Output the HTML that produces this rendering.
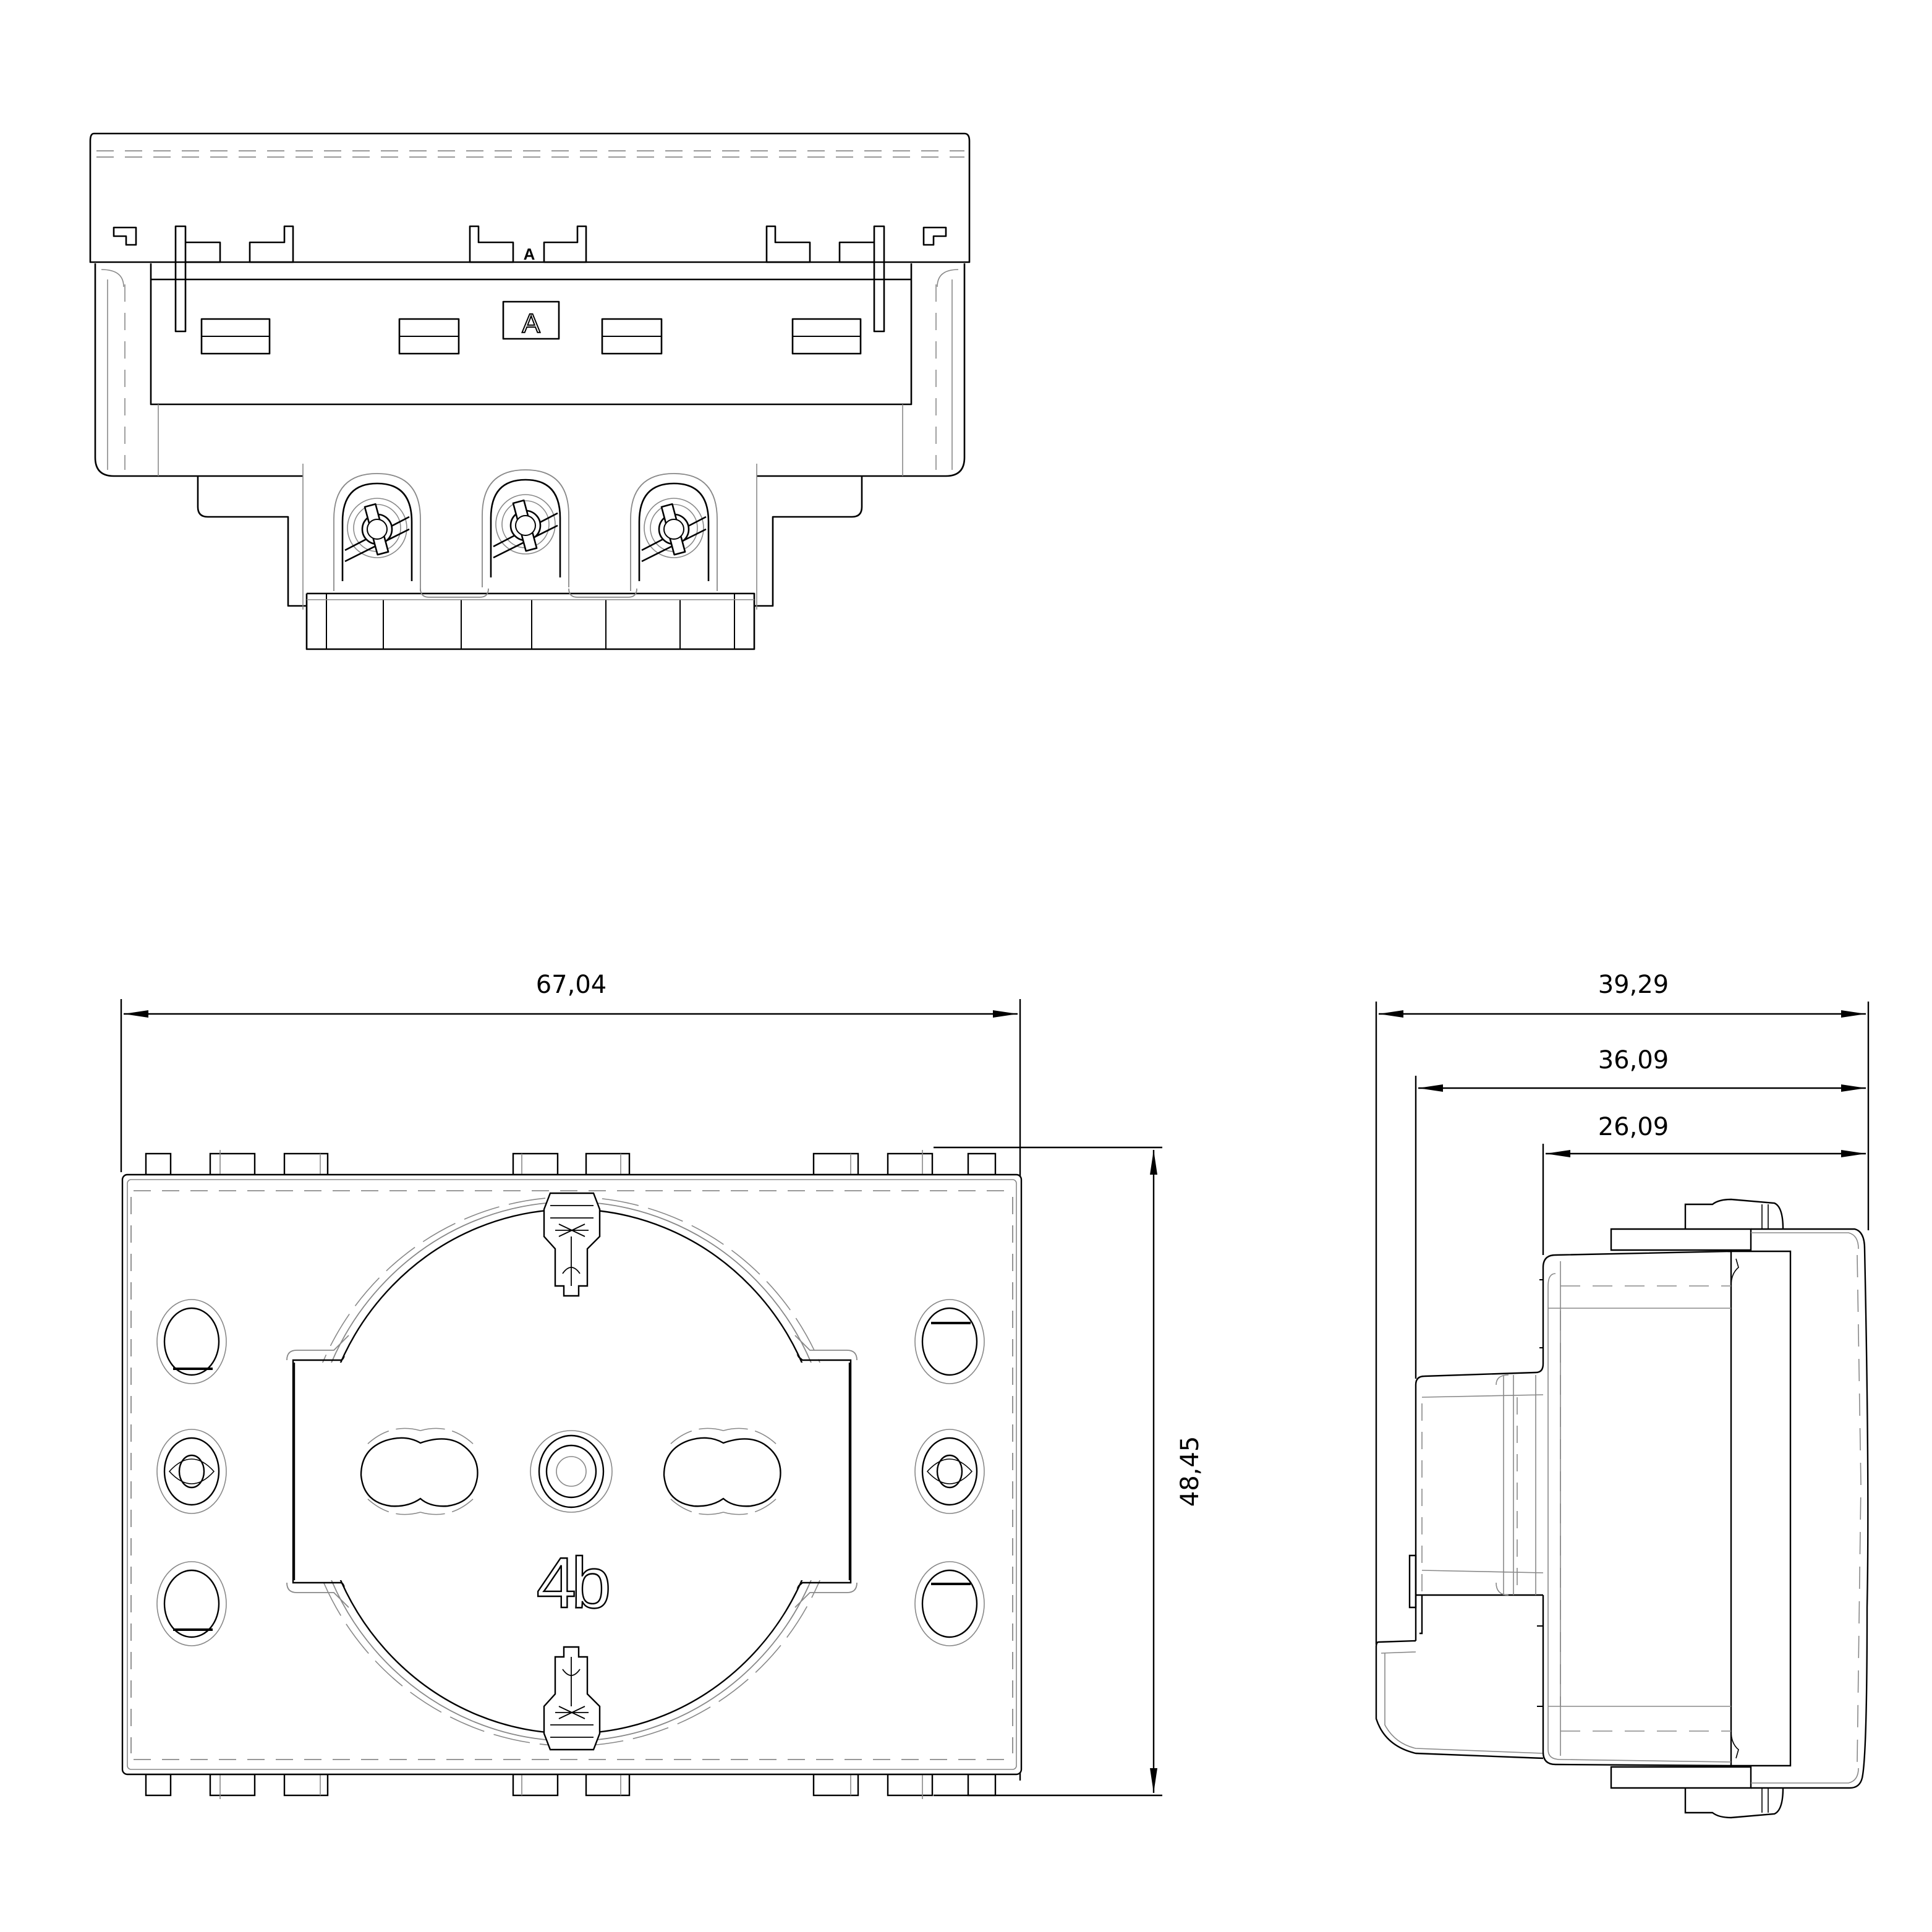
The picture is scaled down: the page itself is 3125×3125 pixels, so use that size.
<!DOCTYPE html>
<html><head><meta charset="utf-8"><style>html,body{margin:0;padding:0;background:#fff}svg{display:block}</style></head><body>
<svg width="3125" height="3125" viewBox="0 0 1562.5 1562.5" xmlns="http://www.w3.org/2000/svg" font-family="DejaVu Sans, Liberation Sans, sans-serif">
<defs>
<marker id="a" viewBox="0 0 20 6" refX="20" refY="3" markerWidth="20" markerHeight="6" markerUnits="userSpaceOnUse" orient="auto-start-reverse"><path d="M0,0L20,3L0,6z" fill="#000"/></marker>
</defs>
<g fill="none" stroke="#000" stroke-width="1.3" stroke-linejoin="round">
<!-- ================= TOP VIEW ================= -->
<path d="M76,108 L780,108 Q784,108 784,114 L784,212 L73,212 L73,114 Q73,108 76,108Z" fill="#fff"/>
<path d="M78,122 L780,122 M78,127 L780,127" stroke="#777" stroke-width="0.8" stroke-dasharray="14,9"/>
<path d="M77,213 L77,370 Q77,385 92,385 L245,385 M780,213 L780,370 Q780,385 765,385 L612,385"/>
<path d="M122,226 L737,226 M122,213 L122,327 L737,327 L737,213"/>
<g stroke="#888" stroke-width="0.8">
<path d="M87,226 L87,380 M128,327 L128,385 M770,226 L770,380 M730,327 L730,385"/>
<path d="M101,230 L101,380 M757,230 L757,380" stroke-dasharray="14,9"/>
<path d="M82,218 Q100,218 100,232 M775,218 Q758,218 758,232"/>
</g>
<path d="M160,385 L160,410 Q160,418 168,418 L233,418 L233,490 L248,490 M697,385 L697,410 Q697,418 689,418 L625,418 L625,490 L610,490"/>
<path d="M245,375 L245,493 M612,375 L612,493" stroke="#888" stroke-width="0.8"/>
<path d="M248,480 L248,525 L610,525 L610,480 L248,480"/>
<path d="M264,480 L264,525 M594,480 L594,525 M310,485 L310,525 M373,485 L373,525 M430,485 L430,525 M490,485 L490,525 M550,485 L550,525" stroke-width="1"/>
<path d="M248,485 L610,485" stroke="#888" stroke-width="0.8"/>
<g id="term">
<path d="M270,478 L270,420 Q270,383 305,383 Q340,383 340,420 L340,478" stroke="#888" stroke-width="0.9"/>
<path d="M277,470 L277,422 Q277,391 305,391 Q333,391 333,422 L333,470" />
<circle cx="305" cy="427" r="24" stroke="#888" stroke-width="0.8"/>
<circle cx="305" cy="427" r="19" stroke="#888" stroke-width="0.8"/>
<path d="M279,445 L331,418 M279,454 L331,428" />
<circle cx="305" cy="428" r="12" fill="#fff"/>
<rect x="300" y="408" width="9" height="40" transform="rotate(-15 305 428)" fill="#fff"/>
<circle cx="305" cy="428" r="8" fill="#fff" stroke-width="1"/>
</g>
<use href="#term" x="120" y="-3"/>
<use href="#term" x="240"/>
<path d="M340,476 Q340,483 347,483 L388,483 Q395,483 395,476 M460,476 Q460,483 467,483 L508,483 Q515,483 515,476" stroke="#888" stroke-width="0.9"/>
<path d="M92,184 L110,184 L110,198 L102,198 L102,191 L92,191Z M765,184 L747,184 L747,198 L755,198 L755,191 L765,191Z"/>
<path d="M142,183 L150,183 L150,268 L142,268Z M150,196 L178,196 L178,212 L150,212 M202,212 L237,212 L237,183 L230,183 L230,196 L202,196Z"/>
<path d="M715,183 L707,183 L707,268 L715,268Z M707,196 L679,196 L679,212 L707,212 M655,212 L620,212 L620,183 L627,183 L627,196 L655,196Z"/>
<path d="M380,183 L387,183 L387,196 L415,196 L415,212 L380,212Z M474,183 L467,183 L467,196 L440,196 L440,212 L474,212Z"/>
<rect x="163" y="258" width="55" height="28"/><rect x="323" y="258" width="48" height="28"/><rect x="487" y="258" width="48" height="28"/><rect x="641" y="258" width="55" height="28"/>
<path d="M163,272 L218,272 M323,272 L371,272 M487,272 L535,272 M641,272 L696,272" stroke-width="1"/>
<rect x="407" y="244" width="45" height="30"/>
</g>
<text x="429.5" y="269" font-size="22" text-anchor="middle" fill="#fff" stroke="#000" stroke-width="1" font-family="Liberation Sans, sans-serif">A</text>
<text x="428" y="210" font-size="13" font-weight="bold" text-anchor="middle" fill="#000" font-family="Liberation Sans, sans-serif">A</text>

<!-- ================= FRONT VIEW ================= -->
<g fill="none" stroke="#000" stroke-width="1.2">
<path d="M98,808 L98,948 M825,808 L825,1440"/>
<line x1="100" y1="820" x2="823" y2="820" marker-start="url(#a)" marker-end="url(#a)"/>
<path d="M755,928 L940,928 M755,1452 L940,1452"/>
<line x1="933" y1="930" x2="933" y2="1450" marker-start="url(#a)" marker-end="url(#a)"/>
<g id="tabs">
<rect x="118" y="933" width="20" height="17"/><rect x="170" y="933" width="36" height="17"/><rect x="230" y="933" width="35" height="17"/>
<rect x="415" y="933" width="36" height="17"/><rect x="474" y="933" width="35" height="17"/><rect x="658" y="933" width="36" height="17"/>
<rect x="718" y="933" width="36" height="17"/><rect x="783" y="933" width="22" height="17"/>
<path d="M178,930 L178,950 M259,933 L259,950 M422,933 L422,950 M502,933 L502,950 M688,933 L688,950 M746,930 L746,950" stroke="#888" stroke-width="0.8"/>
</g>
<use href="#tabs" transform="translate(0,2385) scale(1,-1)"/>
<rect x="99" y="950" width="727" height="485" rx="4" fill="#fff"/>
<rect x="103" y="954" width="719" height="477" rx="3" stroke="#888" stroke-width="0.8"/>
<path d="M108,963 L818,963 M108,1423 L818,1423 M106,968 L106,1418 M819,968 L819,1418" stroke="#777" stroke-width="0.8" stroke-dasharray="14,9"/>
<ellipse cx="462" cy="1190" rx="219" ry="222" stroke="#888" stroke-width="0.8" stroke-dasharray="30,8"/>
<ellipse cx="462" cy="1190" rx="212" ry="218" stroke="#888" stroke-width="0.9"/>
<path d="M232,1100 Q232,1092 240,1092 L270,1092 L282,1080 M693,1100 Q693,1092 685,1092 L655,1092 L643,1080 M232,1280 Q232,1288 240,1288 L270,1288 L282,1300 M693,1280 Q693,1288 685,1288 L655,1288 L643,1300" stroke="#888" stroke-width="0.9"/>
<ellipse cx="462" cy="1190" rx="205" ry="212"/>
<path d="M237,1100 L276,1100 L290,1088 L290,1292 L276,1280 L237,1280Z M688,1100 L649,1100 L635,1088 L635,1292 L649,1280 L688,1280Z"/>
<path d="M238,1102 L280,1102 L300,1085 L300,1295 L280,1278 L238,1278Z M687,1102 L645,1102 L625,1085 L625,1295 L645,1278 L687,1278Z" fill="#fff" stroke="none"/>
<ellipse cx="462" cy="1190" rx="204" ry="211" fill="#fff" stroke="none"/>
<path d="M238,1102 L238,1278 M687,1102 L687,1278" stroke="#000"/>
<g id="f8">
<path d="M340,1167 Q360,1160 373,1168 Q388,1178 386,1195 Q383,1215 362,1218 Q348,1219 340,1212 Q330,1219 316,1218 Q294,1215 292,1193 Q292,1172 312,1165 Q328,1160 340,1167Z"/>
<path d="M340,1157 Q365,1150 385,1170 M340,1223 Q365,1230 385,1210 M340,1157 Q315,1150 295,1170 M340,1223 Q315,1230 295,1210" stroke="#888" stroke-width="0.8" stroke-dasharray="20,6"/>
</g>
<use href="#f8" x="245"/>
<circle cx="462" cy="1190" r="33" stroke="#888" stroke-width="0.8"/>
<ellipse cx="462" cy="1190" rx="26" ry="29"/>
<ellipse cx="462" cy="1190" rx="20" ry="21"/>
<circle cx="462" cy="1190" r="12" stroke="#888" stroke-width="0.8"/>
<g id="sh">
<ellipse cx="155" cy="1085" rx="28" ry="34" stroke="#888" stroke-width="0.8"/>
<ellipse cx="155" cy="1085" rx="22" ry="27"/>
<ellipse cx="155" cy="1190" rx="28" ry="34" stroke="#888" stroke-width="0.8"/>
<ellipse cx="155" cy="1190" rx="22" ry="27"/>
<ellipse cx="155" cy="1190" rx="10" ry="13"/>
<path d="M137,1190 Q155,1170 173,1190 Q155,1210 137,1190Z" stroke-width="0.8"/>
<ellipse cx="155" cy="1297" rx="28" ry="34" stroke="#888" stroke-width="0.8"/>
<ellipse cx="155" cy="1297" rx="22" ry="27"/>
</g>
<use href="#sh" x="613"/>
<path d="M140,1107 L172,1107 M140,1318 L172,1318 M753,1070 L785,1070 M753,1281 L785,1281" stroke-width="2"/>
<g id="clip">
<path d="M440,978 L445,965 L480,965 L485,978 L485,1000 L475,1010 L475,1040 L468,1040 L468,1048 L456,1048 L456,1040 L449,1040 L449,1010 L440,1000Z" fill="#fff"/>
<path d="M445,975 L480,975 M445,985 L480,985 M449,995 L476,995 M452,1000 L473,990 M452,990 L473,1000 M462,1000 L462,1040 M455,1030 Q462,1020 469,1030" stroke-width="0.9"/>
</g>
<use href="#clip" transform="translate(0,2380) scale(1,-1)"/>
</g>
<text x="462" y="1300" font-size="58" text-anchor="middle" fill="#fff" stroke="#000" stroke-width="1.2" letter-spacing="-4" font-family="Liberation Sans, sans-serif">4b</text>
<g font-size="20" fill="#000" text-anchor="middle">
<text x="462" y="803">67,04</text>
<text transform="translate(969,1190) rotate(-90)">48,45</text>
<text x="1321" y="803">39,29</text>
<text x="1321" y="864">36,09</text>
<text x="1321" y="918">26,09</text>
</g>

<!-- ================= SIDE VIEW ================= -->
<g fill="none" stroke="#000" stroke-width="1.2">
<path d="M1113,810 L1113,1330 M1145,870 L1145,1115 M1248,925 L1248,1015 M1511,810 L1511,995"/>
<line x1="1115" y1="820" x2="1509" y2="820" marker-start="url(#a)" marker-end="url(#a)"/>
<line x1="1147" y1="880" x2="1509" y2="880" marker-start="url(#a)" marker-end="url(#a)"/>
<line x1="1250" y1="933" x2="1509" y2="933" marker-start="url(#a)" marker-end="url(#a)"/>
<path d="M1145,1327 L1115,1328 Q1113,1328 1113,1332 L1113,1390 Q1120,1412 1145,1418 L1248,1422"/>
<path d="M1117,1337 L1145,1336 M1120,1337 L1120,1395 Q1128,1410 1145,1414 L1248,1418" stroke="#888" stroke-width="0.8"/>
<path d="M1145,1327 L1145,1120 Q1145,1113 1152,1113 L1242,1110 Q1248,1110 1248,1103 M1145,1290 L1248,1290"/>
<path d="M1148,1321 L1150,1321 L1150,1290 M1140,1258 L1145,1258 L1145,1300 L1140,1300Z"/>
<path d="M1150,1130 L1248,1128 M1150,1270 L1248,1272 M1216,1112 L1216,1290 M1224,1112 L1224,1290 M1242,1112 L1242,1290 M1210,1120 Q1210,1112 1220,1112 M1210,1280 Q1210,1290 1220,1290" stroke="#888" stroke-width="0.8"/>
<path d="M1150,1135 L1150,1290 M1227,1130 L1227,1290" stroke="#888" stroke-width="0.8" stroke-dasharray="14,9"/>
<path d="M1248,1103 L1248,1025 Q1248,1015 1258,1015 L1400,1012 L1400,1428 L1258,1427 Q1248,1427 1248,1417 L1248,1290"/>
<path d="M1400,1012 L1448,1012 L1448,1428 L1400,1428"/>
<path d="M1404,1018 L1406,1025 Q1400,1030 1400,1040 M1404,1422 L1406,1415 Q1400,1410 1400,1400" stroke-width="0.8"/>
<path d="M1258,1030 Q1252,1030 1252,1040 L1252,1415 Q1252,1423 1262,1423 L1400,1425 M1262,1020 L1262,1420 M1252,1058 L1400,1058 M1252,1380 L1400,1380" stroke="#888" stroke-width="0.8"/>
<path d="M1262,1040 L1400,1040 M1262,1400 L1400,1400 M1262,1060 L1262,1380" stroke="#888" stroke-width="0.8" stroke-dasharray="16,10"/>
<path d="M1245,1035 L1248,1035 L1248,1090 L1245,1090 M1243,1315 L1248,1315 L1248,1380 L1243,1380" stroke-width="1"/>
<path d="M1303,994 L1416,994 L1416,1011 L1303,1011Z M1363,994 L1363,974 L1385,974 Q1390,970 1400,970 L1435,973 Q1442,976 1442,994"/>
<path d="M1303,1429 L1416,1429 L1416,1446 L1303,1446Z M1363,1446 L1363,1466 L1385,1466 Q1390,1470 1400,1470 L1435,1467 Q1442,1464 1442,1446"/>
<path d="M1425,974 L1425,994 M1430,974 L1430,994 M1425,1446 L1425,1466 M1430,1446 L1430,1466" stroke-width="0.8"/>
<path d="M1416,994 L1500,994 Q1508,996 1508,1010 Q1512,1200 1510,1300 Q1510,1420 1506,1438 Q1504,1446 1496,1446 L1416,1446"/>
<path d="M1416,997 L1495,997 Q1503,999 1503,1010 M1416,1442 L1495,1442 Q1503,1440 1503,1430" stroke="#888" stroke-width="0.8"/>
<path d="M1502,1015 L1505,1200 L1502,1425" stroke="#888" stroke-width="0.8" stroke-dasharray="18,10"/>
</g>
</svg>
</body></html>
